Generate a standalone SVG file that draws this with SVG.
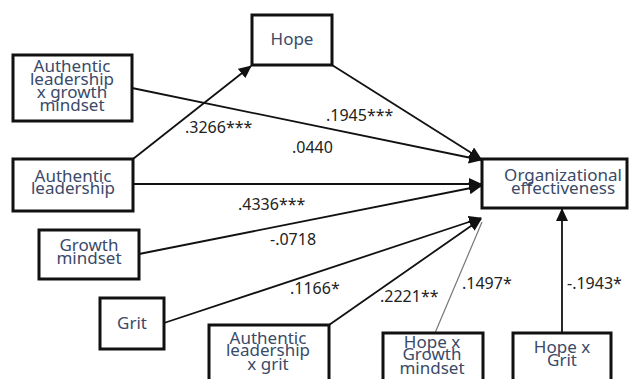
<svg xmlns="http://www.w3.org/2000/svg" width="633" height="379" viewBox="0 0 633 379">
<style>
.box{fill:#fff;stroke:#111;stroke-width:3}
.nt{font-family:"Noto Sans","Open Sans",sans-serif;font-size:17px;fill:#3a4a68;text-anchor:middle}
.lbl{font-family:"Noto Sans","Open Sans",sans-serif;font-size:16px;fill:#222}
.ln{stroke:#111;stroke-width:1.8;fill:none}
.thin{stroke:#777;stroke-width:1.2;fill:none}
</style>
<defs>
<marker id="ah" markerUnits="userSpaceOnUse" markerWidth="14" markerHeight="12" refX="12" refY="6" orient="auto">
<path d="M0,0 L13,6 L0,12 Z" fill="#111"/>
</marker>
</defs>
<rect width="633" height="379" fill="#fff"/>
<g id="connectors">
<line class="ln" x1="133" y1="159" x2="251" y2="66" marker-end="url(#ah)"/>
<line class="ln" x1="132" y1="88" x2="481" y2="160" marker-end="url(#ah)"/>
<line class="ln" x1="332" y1="65" x2="481" y2="159" marker-end="url(#ah)"/>
<line class="ln" x1="133" y1="184" x2="481" y2="184" marker-end="url(#ah)"/>
<line class="ln" x1="139" y1="254" x2="481" y2="186" marker-end="url(#ah)"/>
<line class="ln" x1="164" y1="323" x2="481" y2="218" marker-end="url(#ah)"/>
<line class="ln" x1="329" y1="325" x2="481" y2="219" marker-end="url(#ah)"/>
<line class="thin" x1="435" y1="333" x2="482" y2="222"/>
<line class="ln" x1="562" y1="333" x2="562" y2="209" marker-end="url(#ah)"/>
</g>
<g id="labels">
<text class="lbl" x="185" y="133">.3266***</text>
<text class="lbl" x="292" y="153">.0440</text>
<text class="lbl" x="326" y="121">.1945***</text>
<text class="lbl" x="238" y="210">.4336***</text>
<text class="lbl" x="270" y="245">-.0718</text>
<text class="lbl" x="290" y="294">.1166*</text>
<text class="lbl" x="380" y="302">.2221**</text>
<text class="lbl" x="462" y="289">.1497*</text>
<text class="lbl" x="567" y="289">-.1943*</text>
</g>
<g id="hope">
<rect class="box" x="252" y="15" width="80" height="50"/>
<text class="nt" x="292" y="45">Hope</text>
</g>
<g id="al_gm">
<rect class="box" x="13" y="55" width="119" height="66"/>
<text class="nt" x="72" y="72">Authentic</text>
<text class="nt" x="72" y="85">leadership</text>
<text class="nt" x="72" y="98">x growth</text>
<text class="nt" x="72" y="111">mindset</text>
</g>
<g id="al">
<rect class="box" x="13" y="159" width="120" height="52"/>
<text class="nt" x="73" y="182">Authentic</text>
<text class="nt" x="73" y="194">leadership</text>
</g>
<g id="gm">
<rect class="box" x="39" y="230" width="100" height="49"/>
<text class="nt" x="89" y="251">Growth</text>
<text class="nt" x="89" y="264">mindset</text>
</g>
<g id="grit">
<rect class="box" x="100" y="298" width="64" height="51"/>
<text class="nt" x="132" y="329">Grit</text>
</g>
<g id="al_grit">
<rect class="box" x="209" y="325" width="120" height="70"/>
<text class="nt" x="268" y="344">Authentic</text>
<text class="nt" x="268" y="356">leadership</text>
<text class="nt" x="268" y="370">x grit</text>
</g>
<g id="hope_gm">
<rect class="box" x="383" y="333" width="100" height="60"/>
<text class="nt" x="432" y="348">Hope x</text>
<text class="nt" x="432" y="360">Growth</text>
<text class="nt" x="432" y="374">mindset</text>
</g>
<g id="hope_grit">
<rect class="box" x="513" y="333" width="98" height="60"/>
<text class="nt" x="562" y="353">Hope x</text>
<text class="nt" x="562" y="366">Grit</text>
</g>
<g id="oe">
<rect class="box" x="482" y="159" width="145" height="49"/>
<text class="nt" x="563" y="181">Organizational</text>
<text class="nt" x="563" y="194">effectiveness</text>
</g>
</svg>
